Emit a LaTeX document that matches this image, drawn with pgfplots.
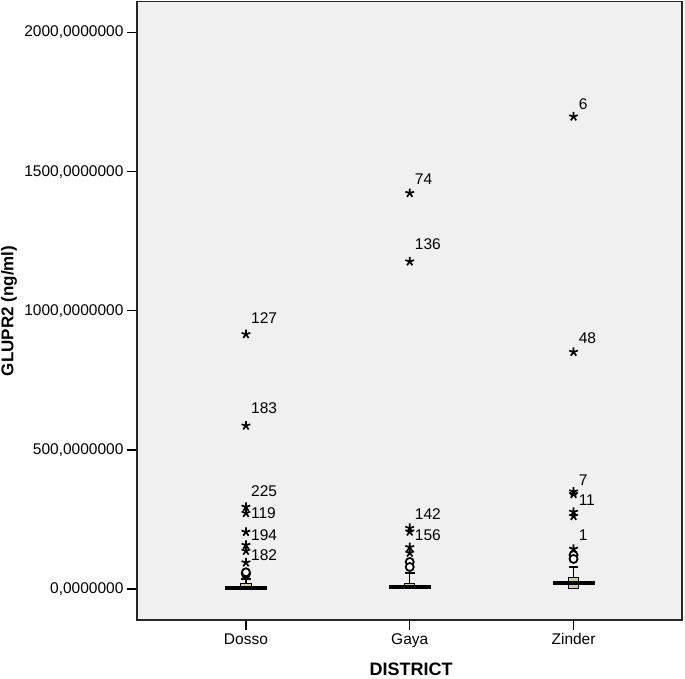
\documentclass[border=0pt]{standalone}
\usepackage{pgfplots}
\pgfplotsset{compat=1.18}
\usepackage{fontspec}
\setmainfont{Liberation Sans}
\definecolor{bg}{RGB}{240,240,240}
\definecolor{boxy}{RGB}{211,206,151}
\newcommand{\fs}{\fontsize{15.5}{18}\selectfont}
\begin{document}
\begin{tikzpicture}
\begin{axis}[name=ax, scale only axis, width=545pt, height=618.3pt,
  xmin=-0.665, xmax=2.662, ymin=-111.5, ymax=2111,
  axis background/.style={fill=bg},
  axis line style={black!85, line width=1.3pt},
  xtick={0,1,2}, xticklabels={Dosso,Gaya,Zinder},
  ytick={0,500,1000,1500,2000},
  yticklabels={{0,0000000},{500,0000000},{1000,0000000},{1500,0000000},{2000,0000000}},
  tick align=outside, major tick length=10pt,
  tick style={black, line width=1.3pt},
  xtick pos=bottom, ytick pos=left,
  ticklabel style={font=\fs},
  xlabel={DISTRICT}, ylabel={GLUPR2 (ng/ml)},
  xlabel style={font=\fontsize{18}{20}\selectfont\bfseries, at={(axis description cs:0.503,-0.0895)}, anchor=base, inner sep=0pt},
  ylabel style={font=\fontsize{17}{20}\selectfont\bfseries, at={(axis description cs:-0.2349,0.5)}, anchor=center, inner sep=0pt},
]
% whiskers
\addplot[black, line width=1.3pt] coordinates {(0,18) (0,36)};
\addplot[black, line width=1.3pt] coordinates {(-0.03,36) (0.03,36)};
\addplot[black, line width=1.3pt] coordinates {(1,21) (1,57)};
\addplot[black, line width=1.3pt] coordinates {(0.97,57) (1.03,57)};
\addplot[black, line width=1.3pt] coordinates {(2,40) (2,79)};
\addplot[black, line width=1.3pt] coordinates {(1.97,79) (2.03,79)};
% boxes (Q1 to Q3)
\addplot[draw=black, fill=boxy, line width=1pt] coordinates {(-0.031,0) (0.031,0) (0.031,18) (-0.031,18) (-0.031,0)};
\addplot[draw=black, fill=boxy, line width=1pt] coordinates {(0.969,0) (1.031,0) (1.031,21) (0.969,21) (0.969,0)};
\addplot[draw=black, fill=boxy, line width=1pt] coordinates {(1.969,0) (2.031,0) (2.031,40) (1.969,40) (1.969,0)};
% thick median bars
\addplot[black, line width=4pt] coordinates {(-0.128,3.6) (0.128,3.6)};
\addplot[black, line width=4pt] coordinates {(0.872,7) (1.128,7)};
\addplot[black, line width=4.5pt] coordinates {(1.872,21.6) (2.128,21.6)};
% circles (outliers)
\addplot[only marks, mark=*, mark size=4pt, mark options={fill=white, draw=black, line width=1.8pt}] table {
x y
0 54
0 60
1 97
1 79
2 122
2 108
};
% stars (extremes)
\addplot[only marks, mark=star, mark size=4.6pt, mark options={line width=1.7pt, draw=black}] table {
x y
0 915.6
0 587
0 295
0 273
0 205
0 158
0 137
0 95
1 1423
1 1177
1 219
1 206
1 150
1 130
2 1698
2 852
2 350
2 341
2 277
2 262
2 144
};
% outlier labels
\addplot[draw=none, mark=none, nodes near coords, point meta=explicit symbolic,
  nodes near coords style={anchor=west, font=\fs, inner sep=0pt, xshift=5pt, text=black}] table[meta=lab] {
x y lab
0 974 127
0 651 183
0 353 225
0 273 119
0 194 194
0 122 182
1 1474 74
1 1240 136
1 270 142
1 194 156
2 1744 6
2 902 48
2 392 7
2 320 11
2 194 1
};
\end{axis}
\path (ax.south west) ++(-137pt,-58pt) coordinate (bl);
\path (ax.north east) ++(3pt,1.7pt) coordinate (tr);
\pgfresetboundingbox
\path[use as bounding box] (bl) rectangle (tr);
\end{tikzpicture}
\end{document}
